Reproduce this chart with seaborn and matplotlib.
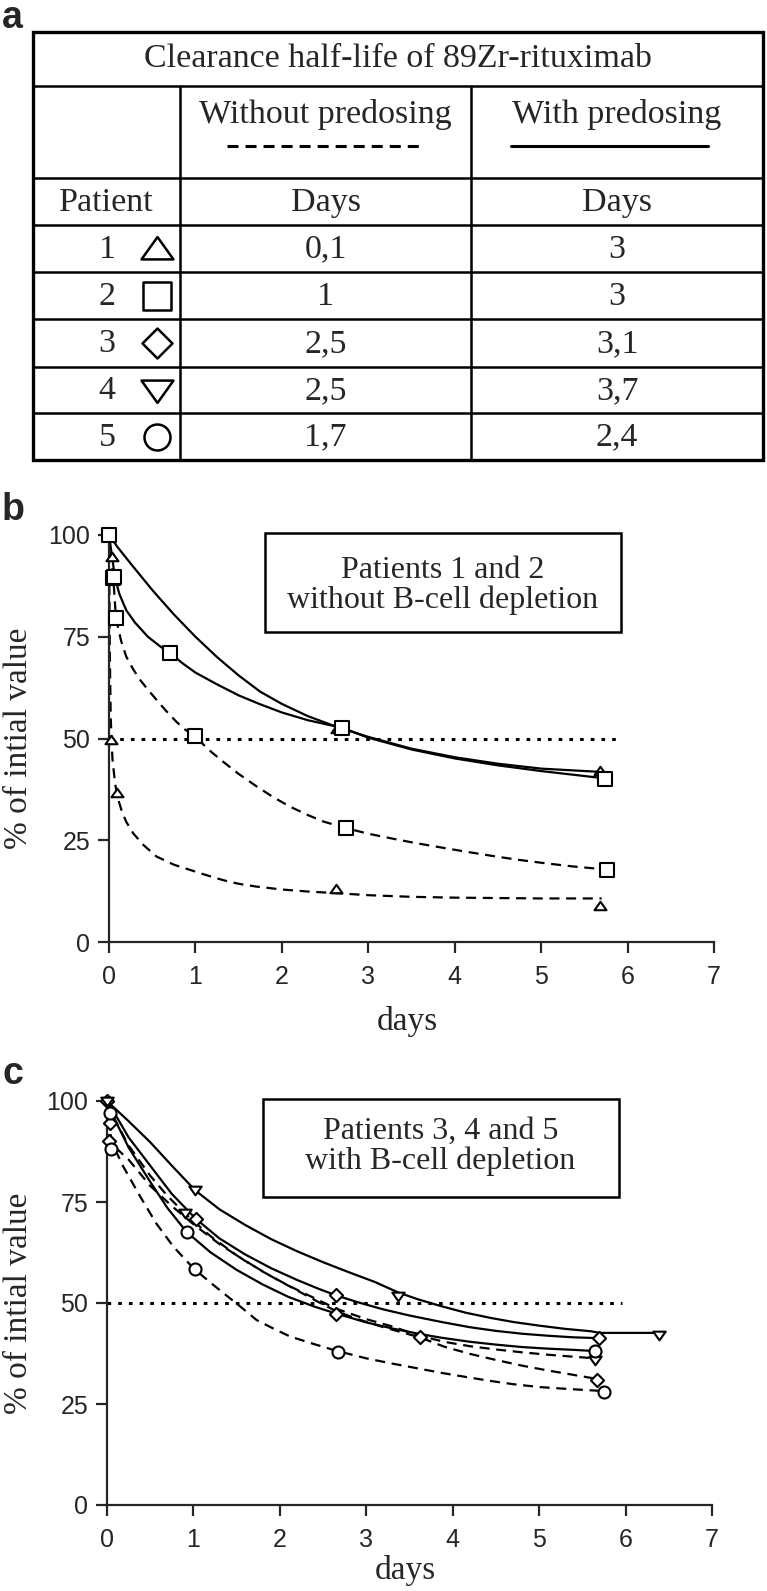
import matplotlib
matplotlib.use("Agg")
import matplotlib.pyplot as plt
from matplotlib.patches import Rectangle
from matplotlib.path import Path
import seaborn as sns

# ---------------- data ----------------
TABLE_TITLE = "Clearance half-life of 89Zr-rituximab"
GROUP_LABELS = ["Without predosing", "With predosing"]
PATIENTS = ["1", "2", "3", "4", "5"]
HALF_LIFE_WITHOUT = ["0,1", "1", "2,5", "2,5", "1,7"]
HALF_LIFE_WITH = ["3", "3", "3,1", "3,7", "2,4"]

X_TICKS = [0, 1, 2, 3, 4, 5, 6, 7]
Y_TICKS = [0, 25, 50, 75, 100]
HALF_LEVEL = 50

# panel b - patient 1 (triangle)
B_P1_DASH_X = [0, 0.01, 0.02, 0.04, 0.07, 0.1, 0.15, 0.2, 0.28, 0.4, 0.55, 0.75, 0.94, 1.1, 1.32, 1.5,
               1.71, 2.0, 2.3, 2.63, 3.0, 3.5, 4.0, 4.5, 5.0, 5.7]
B_P1_DASH_Y = [100, 70, 55, 45, 39, 35.5, 32, 29.5, 26.7, 23.8, 21.0, 19.0, 17.7, 16.6, 15.2, 14.3,
               13.6, 12.9, 12.4, 12.0, 11.5, 11.1, 10.9, 10.8, 10.7, 10.7]
B_P1_DASH_PX = [0.02, 0.09, 2.63, 5.68]
B_P1_DASH_PY = [49.6, 36.5, 12.9, 8.8]
B_P1_SOLID_X = [0, 0.1, 0.25, 0.5, 0.75, 1.0, 1.25, 1.5, 1.75, 2.0, 2.3, 2.63, 3.0, 3.5, 4.0, 4.5, 5.0, 5.68]
B_P1_SOLID_Y = [100, 97, 93, 86.5, 80.5, 75, 70, 65.5, 61.5, 58.5, 55.5, 52.9, 50.4, 47.5, 45.4, 43.8, 42.6, 41.8]
B_P1_SOLID_PX = [0.03, 2.64, 5.68]
B_P1_SOLID_PY = [94.5, 52.3, 41.9]

# panel b - patient 2 (square)
B_P2_DASH_X = [0, 0.05, 0.08, 0.14, 0.2, 0.28, 0.36, 0.45, 0.55, 0.66, 0.78, 0.88, 0.99, 1.15, 1.32, 1.5,
               1.71, 1.9, 2.09, 2.3, 2.48, 2.74, 3.0, 3.28, 3.55, 3.85, 4.1, 4.42, 4.7, 4.99, 5.35, 5.76]
B_P2_DASH_Y = [100, 89.4, 79.6, 74, 70.1, 67, 64.4, 62, 59.5, 56.8, 54.1, 52.2, 50.7, 47.3, 44.3, 41.3,
               38.2, 35.6, 33.3, 31.2, 29.6, 28.0, 26.6, 25.4, 24.3, 23.2, 22.3, 21.2, 20.3, 19.5, 18.6, 17.8]
B_P2_DASH_PX = [0, 0.05, 0.08, 0.99, 2.74, 5.76]
B_P2_DASH_PY = [100, 89.4, 79.6, 50.7, 27.9, 17.7]
B_P2_SOLID_X = [0, 0.04, 0.07, 0.12, 0.2, 0.3, 0.45, 0.6, 0.70, 0.85, 1.0, 1.25, 1.5, 1.75, 2.0, 2.3, 2.70,
                3.0, 3.5, 4.0, 4.5, 5.0, 5.74]
B_P2_SOLID_Y = [100, 94, 89.4, 85.5, 81.5, 78.5, 75, 72.5, 71.1, 68.5, 66.2, 63.3, 60.6, 58.4, 56.4, 54.5, 52.6,
                50.2, 47.3, 45.1, 43.4, 42.0, 40.2]
B_P2_SOLID_PX = [0.06, 0.70, 2.70, 5.74]
B_P2_SOLID_PY = [89.8, 71.1, 52.6, 40.1]

# panel c - patient 3 (diamond)
C_P3_DASH_X = [0, 0.02, 0.25, 0.5, 0.75, 1.0, 1.3, 1.6, 1.9, 2.2, 2.45, 2.65, 2.9, 3.2, 3.62, 3.9, 4.2,
               4.5, 4.8, 5.1, 5.4, 5.67]
C_P3_DASH_Y = [100, 90, 85.5, 79, 74, 69.5, 64.6, 60.4, 56.6, 53.1, 50.2, 48, 46, 44, 41.5, 39.2, 37.4,
               35.9, 34.5, 33.3, 32.2, 31.2]
C_P3_DASH_PX = [0, 0.02, 2.65, 3.62, 5.67]
C_P3_DASH_PY = [100, 90, 47.3, 41.7, 31]
C_P3_SOLID_X = [0, 0.1, 0.25, 0.5, 0.75, 1.03, 1.3, 1.6, 1.9, 2.2, 2.45, 2.65, 2.9, 3.2, 3.5, 3.87, 4.2,
                4.5, 4.8, 5.1, 5.4, 5.69]
C_P3_SOLID_Y = [100, 96.5, 91, 84, 77, 70.8, 66, 62, 58.6, 55.7, 53.5, 51.9, 50.2, 48.4, 46.9, 45.3, 44.0,
                43.1, 42.4, 41.9, 41.5, 41.3]
C_P3_SOLID_PX = [0.04, 1.03, 2.65, 5.69]
C_P3_SOLID_PY = [94.5, 70.8, 51.9, 41.3]

# panel c - patient 4 (inverted triangle)
C_P4_DASH_X = [0, 0.05, 0.25, 0.5, 0.7, 0.9, 1.2, 1.5, 1.8, 2.1, 2.4, 2.65, 3.0, 3.3, 3.6, 3.9, 4.2, 4.5,
               4.8, 5.1, 5.4, 5.65]
C_P4_DASH_Y = [100, 97, 89, 81.5, 76.5, 72.2, 66.5, 61.8, 57.8, 54.3, 51.2, 48.6, 46, 44.2, 42.0, 40.4,
               39.3, 38.5, 37.8, 37.2, 36.7, 36.3]
C_P4_DASH_PX = [0, 0.9, 5.65]
C_P4_DASH_PY = [100, 72.2, 35.9]
C_P4_SOLID_X = [0, 0.25, 0.5, 0.75, 1.02, 1.3, 1.6, 1.9, 2.2, 2.5, 2.8, 3.1, 3.37, 3.6, 3.87, 4.15, 4.44,
                4.7, 5.0, 5.3, 5.6, 5.7, 6.39]
C_P4_SOLID_Y = [100, 95, 89.8, 84, 77.9, 73.2, 69.3, 65.8, 62.8, 60.1, 57.6, 55.2, 52.6, 50.9, 49.2, 47.6,
                46.3, 45.3, 44.4, 43.6, 43.0, 42.6, 42.6]
C_P4_SOLID_PX = [1.02, 3.37, 6.39]
C_P4_SOLID_PY = [77.9, 51.8, 42.2]

# panel c - patient 5 (circle)
C_P5_DASH_X = [0, 0.05, 0.19, 0.38, 0.57, 0.77, 1.0, 1.2, 1.35, 1.55, 1.73, 1.95, 2.12, 2.4, 2.65, 3.0,
               3.3, 3.6, 3.87, 4.15, 4.44, 4.7, 5.0, 5.35, 5.75]
C_P5_DASH_Y = [100, 90, 83.7, 76.5, 69.7, 63.9, 58.6, 55, 52.4, 49, 45.8, 43.4, 41.7, 39.8, 38.2, 36.3,
               35, 33.8, 32.7, 31.7, 30.7, 29.9, 29.2, 28.7, 28.2]
C_P5_DASH_PX = [0.05, 1.02, 2.67, 5.75]
C_P5_DASH_PY = [88, 58.4, 37.8, 28]
C_P5_SOLID_X = [0, 0.1, 0.25, 0.5, 0.7, 0.92, 1.2, 1.5, 1.8, 2.1, 2.4, 2.65, 3.0, 3.3, 3.6, 3.87, 4.2, 4.5,
                4.8, 5.1, 5.4, 5.65]
C_P5_SOLID_Y = [100, 95, 88.5, 80, 73.5, 67.6, 62.5, 58.2, 54.6, 51.5, 49.1, 47.4, 45.2, 43.7, 42.4, 41.4,
                40.4, 39.7, 39.1, 38.7, 38.4, 38.1]
C_P5_SOLID_PX = [0.03, 0.92, 5.65]
C_P5_SOLID_PY = [97, 67.6, 38.1]

# ---------------- styling ----------------
sns.set_style("ticks")
plt.rcParams["font.family"] = ["Liberation Sans", "DejaVu Sans"]
SERIF = ["Liberation Serif", "DejaVu Serif"]

W, H = 767, 1591
fig = plt.figure(figsize=(W / 100, H / 100), dpi=100)

TRI_UP = Path([(-1, -0.62), (1, -0.62), (0, 0.78), (-1, -0.62)], closed=True)
TRI_DOWN = Path([(-1, 0.62), (1, 0.62), (0, -0.78), (-1, 0.62)], closed=True)
PATIENT_MARKERS = [TRI_UP, "s", "D", TRI_DOWN, "o"]
TABLE_MARKER_SIZES = [530, 400, 233, 530, 350]

DASH = (0, (4.5, 3))
FS_TABLE = 24.5

# ---------------- panel a: table ----------------
ax_t = fig.add_axes([0, 0, 1, 1])
ax_t.set_xlim(0, W)
ax_t.set_ylim(H, 0)
ax_t.axis("off")

L, R, T, B = 33, 763, 32, 460
row_lines = [86, 178, 225, 272, 319, 367, 413]
col_lines = [180, 471]
ax_t.add_patch(Rectangle((L, T), R - L, B - T, fill=False, lw=2.4, ec="black"))
for y in row_lines:
    ax_t.plot([L, R], [y, y], color="black", lw=1.8)
for x in col_lines:
    ax_t.plot([x, x], [row_lines[0], B], color="black", lw=1.8)

ax_t.text((L + R) / 2, 59, TABLE_TITLE, ha="center", va="center", fontsize=FS_TABLE, family=SERIF)
c1 = (col_lines[0] + col_lines[1]) / 2
c2 = (col_lines[1] + R) / 2
ax_t.text(c1, 114, GROUP_LABELS[0], ha="center", va="center", fontsize=FS_TABLE, family=SERIF)
ax_t.text(c2, 114, GROUP_LABELS[1], ha="center", va="center", fontsize=FS_TABLE, family=SERIF)
ax_t.plot([227, 423], [146, 146], color="black", lw=2.2, linestyle=(0, (3.6, 2.3)))
ax_t.plot([511, 708], [146, 146], color="black", lw=2.2)

ax_t.text(106, 203, "Patient", ha="center", va="center", fontsize=FS_TABLE, family=SERIF)
ax_t.text(c1, 203, "Days", ha="center", va="center", fontsize=FS_TABLE, family=SERIF)
ax_t.text(c2, 203, "Days", ha="center", va="center", fontsize=FS_TABLE, family=SERIF)

row_edges = row_lines[2:] + [B]
for i, p in enumerate(PATIENTS):
    yc = (row_edges[i] + row_edges[i + 1]) / 2
    ax_t.text(107, yc + 1, p, ha="center", va="center", fontsize=FS_TABLE, family=SERIF)
    ax_t.text(c1, yc + 1, HALF_LIFE_WITHOUT[i], ha="center", va="center", fontsize=FS_TABLE, family=SERIF)
    ax_t.text(c2, yc + 1, HALF_LIFE_WITH[i], ha="center", va="center", fontsize=FS_TABLE, family=SERIF)
    ax_t.scatter([157], [yc], marker=PATIENT_MARKERS[i], s=TABLE_MARKER_SIZES[i],
                 facecolor="white", edgecolor="black", linewidth=1.8, zorder=3)

ax_t.text(2, 28, "a", fontsize=27, fontweight="bold", ha="left", va="baseline")
ax_t.text(2, 520, "b", fontsize=27, fontweight="bold", ha="left", va="baseline")
ax_t.text(2, 1084, "c", fontsize=27, fontweight="bold", ha="left", va="baseline")


# ---------------- helpers ----------------
def setup_axes(ax, ylab_x, xlab_y):
    ax.set_xlim(0, 7)
    ax.set_ylim(0, 100)
    ax.set_xticks(X_TICKS)
    ax.set_yticks(Y_TICKS)
    sns.despine(ax=ax)
    for s in ["left", "bottom"]:
        ax.spines[s].set_linewidth(1.6)
    ax.tick_params(axis="both", direction="out", length=8, width=1.6, labelsize=18)
    ax.tick_params(axis="x", pad=8.5)
    ax.tick_params(axis="y", pad=5.5)
    ax.set_ylabel("% of intial value", fontsize=24, family=SERIF)
    ax.set_xlabel("days", fontsize=24, family=SERIF)
    ax.yaxis.set_label_coords(ylab_x, 0.5)
    ax.xaxis.set_label_coords(0.493, xlab_y)
    ax.set_facecolor("none")


def curve(ax, xs, ys, dashed):
    sns.lineplot(x=xs, y=ys, ax=ax, color="black", lw=1.6, sort=False, estimator=None,
                 linestyle=DASH if dashed else "-")


def points(ax, xs, ys, marker, size):
    sns.scatterplot(x=xs, y=ys, ax=ax, marker=marker, s=size, color="white",
                    edgecolor="black", linewidth=1.5, clip_on=False, zorder=4)


def info_box(ax, line1, line2, y1, y2):
    ax.add_patch(Rectangle((1.8, 76.2), 4.12, 24.4, fill=False, lw=1.8, ec="black", clip_on=False))
    ax.text(3.86, y1, line1, ha="center", va="baseline", fontsize=23, family=SERIF)
    ax.text(3.86, y2, line2, ha="center", va="baseline", fontsize=23, family=SERIF)


# ---------------- panel b ----------------
ax_b = fig.add_axes([109 / W, 1 - 942 / H, 605 / W, 407 / H])
setup_axes(ax_b, -0.124, -0.158)
sns.lineplot(x=[0, 5.9], y=[HALF_LEVEL, HALF_LEVEL], ax=ax_b, color="black", lw=2.2,
             linestyle=(0, (1.2, 2.3)))
curve(ax_b, B_P1_DASH_X, B_P1_DASH_Y, True)
curve(ax_b, B_P1_SOLID_X, B_P1_SOLID_Y, False)
curve(ax_b, B_P2_DASH_X, B_P2_DASH_Y, True)
curve(ax_b, B_P2_SOLID_X, B_P2_SOLID_Y, False)
points(ax_b, B_P1_DASH_PX, B_P1_DASH_PY, TRI_UP, 75)
points(ax_b, B_P1_SOLID_PX, B_P1_SOLID_PY, TRI_UP, 75)
points(ax_b, B_P2_DASH_PX, B_P2_DASH_PY, "s", 88)
points(ax_b, B_P2_SOLID_PX, B_P2_SOLID_PY, "s", 88)
info_box(ax_b, "Patients 1 and 2", "without B-cell depletion", 89.4, 82.1)

# ---------------- panel c ----------------
ax_c = fig.add_axes([107 / W, 1 - 1505 / H, 605 / W, 404 / H])
setup_axes(ax_c, -0.121, -0.124)
sns.lineplot(x=[0, 5.96], y=[HALF_LEVEL, HALF_LEVEL], ax=ax_c, color="black", lw=2.2,
             linestyle=(0, (1.2, 2.3)))
curve(ax_c, C_P3_DASH_X, C_P3_DASH_Y, True)
curve(ax_c, C_P3_SOLID_X, C_P3_SOLID_Y, False)
curve(ax_c, C_P4_DASH_X, C_P4_DASH_Y, True)
curve(ax_c, C_P4_SOLID_X, C_P4_SOLID_Y, False)
curve(ax_c, C_P5_DASH_X, C_P5_DASH_Y, True)
curve(ax_c, C_P5_SOLID_X, C_P5_SOLID_Y, False)
points(ax_c, C_P3_DASH_PX, C_P3_DASH_PY, "D", 45)
points(ax_c, C_P3_SOLID_PX, C_P3_SOLID_PY, "D", 45)
points(ax_c, C_P4_DASH_PX, C_P4_DASH_PY, TRI_DOWN, 80)
points(ax_c, C_P4_SOLID_PX, C_P4_SOLID_PY, TRI_DOWN, 80)
points(ax_c, C_P5_DASH_PX, C_P5_DASH_PY, "o", 75)
points(ax_c, C_P5_SOLID_PX, C_P5_SOLID_PY, "o", 75)
info_box(ax_c, "Patients 3, 4 and 5", "with B-cell depletion", 90.6, 83.2)

fig.savefig("out.png", dpi=100)
plt.close(fig)
